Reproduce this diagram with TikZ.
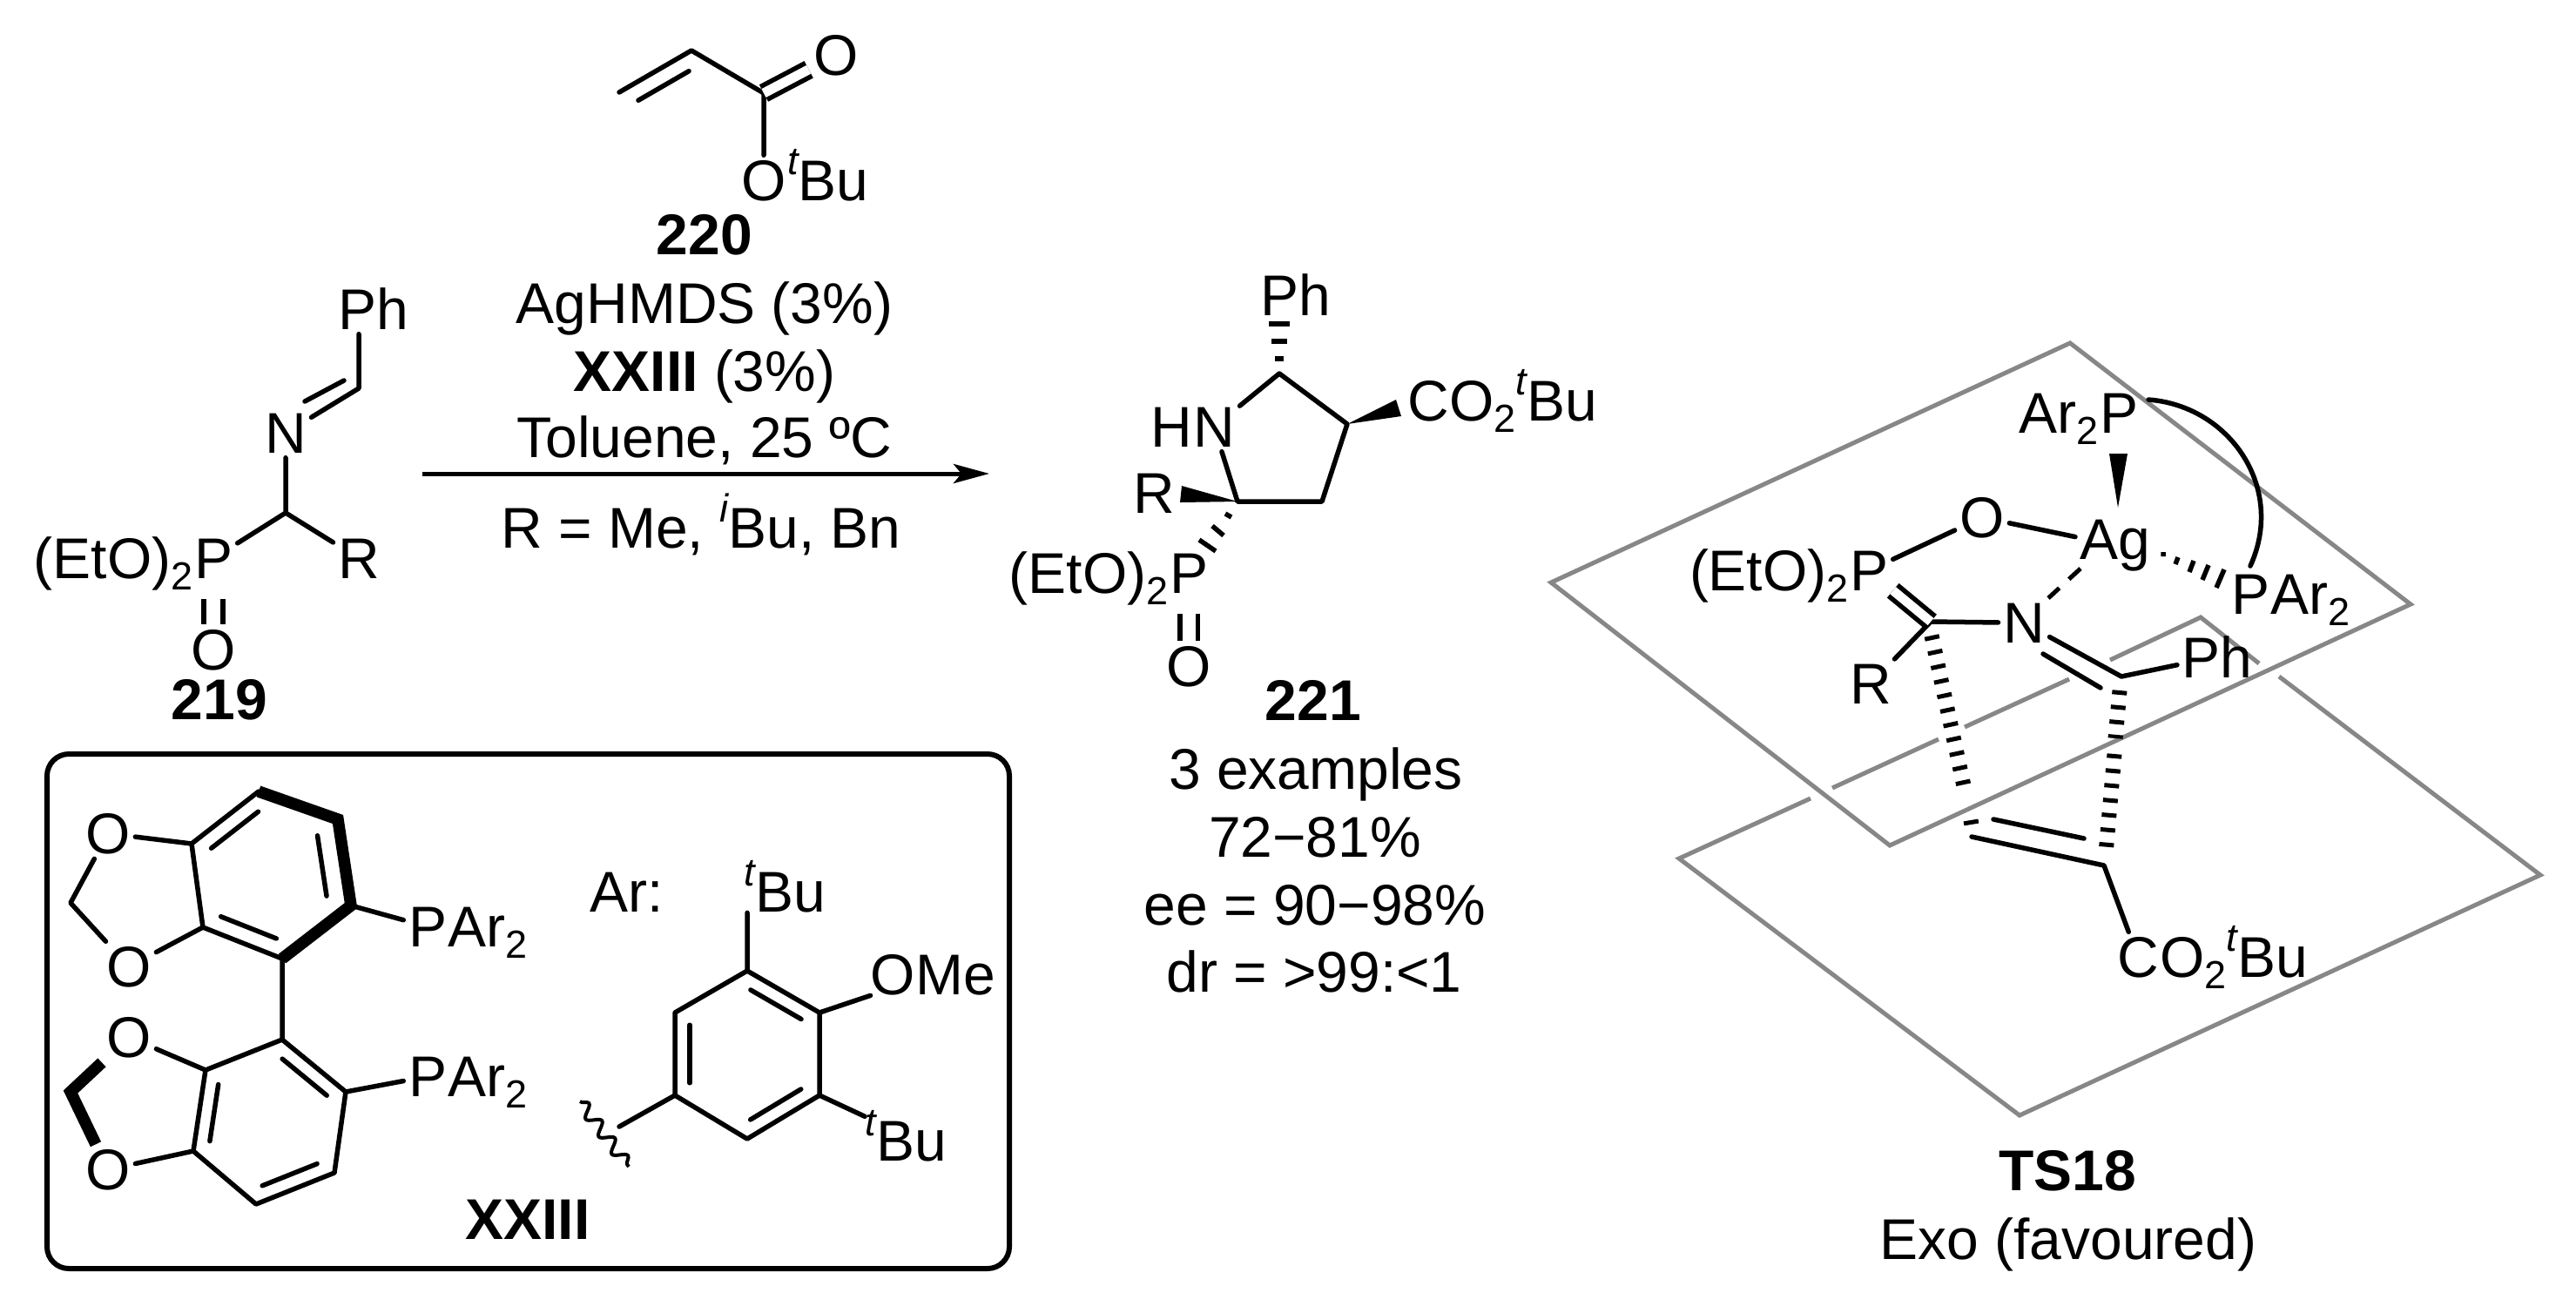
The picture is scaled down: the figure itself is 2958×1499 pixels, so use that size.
\documentclass[tikz,border=0pt]{standalone}
\usepackage{fontspec}
\setmainfont{Liberation Sans}
\usetikzlibrary{arrows.meta,calc,decorations.pathmorphing}
\newcommand{\chemfont}{\fontsize{18.76}{22}\selectfont}
\newcommand{\subtxt}[1]{\raisebox{-.2em}{\fontsize{12.8}{14}\selectfont #1}}
\newcommand{\suptxt}[1]{\raisebox{.44em}{\fontsize{12.8}{14}\selectfont\itshape #1}}
\newcommand{\innerbond}[3]{\draw[bond]($(#1)!.15!(#2)!#3!90:(#2)$)--($(#2)!.15!(#1)!#3!-90:(#1)$);}
\tikzset{
bond/.style={line width=.055cm,line cap=round,line join=round},
boldbond/.style={line width=.135cm},
dblbond/.style={double,double distance=#1,line width=.055cm},
hash/.style={line width=.055cm},
hashbond/.style={line width=.17cm,dash pattern=on .05cm off .12cm},
plane/.style={draw=black!47,line width=.05cm},
lbl/.style={font=\chemfont,inner sep=0pt,anchor=base},
atom/.style={font=\chemfont,inner sep=.05cm,anchor=base},
rlbl/.style={lbl,anchor=base west,xshift=-.05cm},
llbl/.style={lbl,anchor=base east,xshift=.05cm},
cmpd/.style={lbl,font=\chemfont\bfseries}
}
\begin{document}
\begin{tikzpicture}[x=.01cm,y=-.01cm]
\useasboundingbox(0,0)rectangle(2958,1499);
\coordinate(up1)at(2377,394);\coordinate(up2)at(2768,694);\coordinate(up3)at(2170,971);\coordinate(up4)at(1781,669);
\coordinate(lp1)at(2527,709);\coordinate(lp2)at(2917,1005);\coordinate(lp3)at(2319,1281);\coordinate(lp4)at(1928,986);
\coordinate(gap1)at(2079,917);\coordinate(gap2)at(2104,905);\coordinate(gap3)at(2226,849);\coordinate(gap4)at(2256,835);
\coordinate(gap5)at(2376,780);\coordinate(gap6)at(2423,758);\coordinate(gap7)at(2594,762);\coordinate(gap8)at(2617,777);
\draw[plane](up1)--(up2)--(up3)--(up4)--cycle;
\draw[plane](gap8)--(lp2)--(lp3)--(lp4)--(gap1)(gap2)--(gap3)(gap4)--(gap5)(gap6)--(lp1)--(gap7);
\node[atom](O220a)at(960,86){O};
\node[atom](O220b)at(877,230){O};
\node[rlbl](Bu220)at(O220b.base east){\suptxt{t}Bu};
\coordinate(c220a)at(711,106);\coordinate(c220b)at(794,58);\coordinate(c220c)at(877,107);
\draw[bond](c220a)--(c220b)--(c220c)--(O220b);
\innerbond{c220b}{c220a}{.19cm}
\draw[dblbond=.11cm](c220c)--(O220a);
\node[cmpd](n220)at(809,292){220};
\node[lbl](agh)at(809,371){AgHMDS (3\%)};
\node[lbl](lig)at(809,449){\textbf{XXIII} (3\%)};
\node[lbl](tol)at(809,525){Toluene, 25 ºC};
\node[lbl](rme)at(805,629){R = Me, \suptxt{i}Bu, Bn};
\coordinate(arr1)at(485,544);\coordinate(arr2)at(1136,544);
\draw[line width=.05cm,-{Stealth[length=.41cm,width=.22cm,inset=.09cm]}](arr1)--(arr2);
\node[atom](Ph219)at(429,378){Ph};
\node[atom](N219)at(328,520){N};
\node[atom](R219)at(412,664){R};
\node[atom](P219)at(245,664){P};
\node[llbl](Et219)at(P219.base west){(EtO)\subtxt{2}};
\node[atom,inner sep=0pt](O219)at(245,769){O};
\node[cmpd](n219)at(252,826){219};
\coordinate(c219a)at(412,446);\coordinate(c219b)at(328,589);\coordinate(c219c)at(395,437);\coordinate(c219d)at(350,461);
\draw[bond](c219a|-Ph219.south)--(c219a)--(N219)--(c219b)--(P219)(c219b)--(R219)(c219c)--(c219d);
\draw[dblbond=.16cm,shorten <=.18cm,shorten >=.05cm](P219)--(O219);
\coordinate(box1)at(54,866);\coordinate(box2)at(1159,1457);
\draw[line width=.06cm,rounded corners=.25cm](box1)rectangle(box2);
\coordinate(t1)at(220,969);\coordinate(t2)at(297,909);\coordinate(t3)at(388,941);\coordinate(t4)at(403,1040);\coordinate(t5)at(324,1101);\coordinate(t6)at(233,1065);
\coordinate(b1)at(324,1194);\coordinate(b2)at(397,1254);\coordinate(b3)at(384,1347);\coordinate(b4)at(294,1383);\coordinate(b5)at(222,1322);\coordinate(b6)at(236,1229);
\coordinate(tc)at(81,1037);\coordinate(bc)at(81,1254);
\node[atom](Ot1)at(124,980){O};
\node[atom](Ot2)at(148,1133){O};
\node[atom](Ob1)at(148,1214){O};
\node[atom](Ob2)at(124,1366){O};
\node[atom](Pt)at(491,1087){P};
\node[rlbl](Art)at(Pt.base east){Ar\subtxt{2}};
\node[atom](Pb)at(491,1259){P};
\node[rlbl](Arb)at(Pb.base east){Ar\subtxt{2}};
\draw[bond](Ot1)--(t1)--(t2)(t1)--(t6)--(t5)(t6)--(Ot2)--(tc)--(Ot1)(t4)--(Pt)(t5)--(b1);
\draw[boldbond](t2)--(t3)--(t4)--(t5);
\draw[bond](b1)--(b2)--(b3)--(b4)--(b5)--(b6)--(b1)(b6)--(Ob1)(b5)--(Ob2)(b2)--(Pb);
\draw[boldbond](Ob1)--(bc)--(Ob2);
\innerbond{t2}{t1}{.18cm}
\innerbond{t4}{t3}{.26cm}
\innerbond{t6}{t5}{.19cm}
\innerbond{b2}{b1}{.17cm}
\innerbond{b4}{b3}{.17cm}
\innerbond{b6}{b5}{.17cm}
\node[lbl,anchor=base west](ar)at(677,1047){Ar:};
\coordinate(a1)at(858,1115);\coordinate(a2)at(941,1163);\coordinate(a3)at(941,1258);\coordinate(a4)at(858,1308);\coordinate(a5)at(775,1258);\coordinate(a6)at(775,1163);
\coordinate(wave1)at(666,1265);\coordinate(wave2)at(722,1340);\coordinate(wave3)at(711,1294);
\node[lbl,anchor=base west](Bua)at(854,1047){\suptxt{t}Bu};
\node[lbl,anchor=base west](Bub)at(993,1333){\suptxt{t}Bu};
\node[lbl,anchor=base west](OMe)at(999,1142){OMe};
\draw[bond](a1)--(a2)--(a3)--(a4)--(a5)--(a6)--cycle(a1)--(a1|-Bua.south)(a2)--(OMe)(a3)--(Bub)(a5)--(wave3);
\innerbond{a2}{a1}{.17cm}
\innerbond{a4}{a3}{.17cm}
\innerbond{a6}{a5}{.17cm}
\draw[line width=.04cm,decorate,decoration={snake,segment length=.25cm,amplitude=.07cm}](wave1)--(wave2);
\node[cmpd](n23)at(606,1423){XXIII};
\node[atom](Ph221)at(1488,362){Ph};
\coordinate(ca)at(1469,429);\coordinate(cb)at(1547,487);\coordinate(cc)at(1518,576);\coordinate(cd)at(1421,576);
\node[atom](N221)at(1394,513){N};
\node[llbl](H221)at(N221.base west){H};
\draw[bond](N221)--(ca)--(cb)--(cc)--(cd)--(N221);
\coordinate(w1)at(1603,459);\coordinate(w2)at(1609,478);\coordinate(w3)at(1357,558);\coordinate(w4)at(1355,577);
\fill(cb)--(w1)--(w2)--cycle(cd)--(w3)--(w4)--cycle;
\node[lbl,anchor=base west](co221)at(1616,483){CO\subtxt{2}\suptxt{t}Bu};
\node[lbl](R221)at(1325,589){R};
\draw[hash](1457,372)--(1481,372)(1460,392)--(1478,392)(1464,412)--(1474,412);
\draw[hash](1407,590)--(1414,594)(1392,604)--(1405,615)(1377,620)--(1396,633);
\node[atom](P221)at(1365,681){P};
\node[llbl](Et221)at(P221.base west){(EtO)\subtxt{2}};
\node[atom](O221)at(1365,788){O};
\draw[dblbond=.15cm,shorten <=.18cm](P221)--(O221);
\node[cmpd](n221)at(1508,827){221};
\node[lbl](ex)at(1511,906){3 examples};
\node[lbl](yld)at(1510,984){72−81\%};
\node[lbl](ee)at(1510,1062){ee = 90−98\%};
\node[lbl](dr)at(1509,1139){dr = >99:<1};
\node[atom](Pa)at(2433,497){P};
\node[llbl](Ara)at(Pa.base west){Ar\subtxt{2}};
\node[atom](Ag)at(2429,642){Ag};
\node[atom](Ots)at(2276,617){O};
\node[atom](Pts)at(2146,678){P};
\node[llbl](Etts)at(Pts.base west){(EtO)\subtxt{2}};
\node[atom](Pc)at(2584,705){P};
\node[rlbl](Arc)at(Pc.base east){Ar\subtxt{2}};
\node[atom](Nts)at(2324,738){N};
\node[atom](Rts)at(2148,808){R};
\node[atom](Phts)at(2546,778){Ph};
\node[atom](Cts)at(2455,1122){C};
\node[rlbl](cots)at(Cts.base east){O\subtxt{2}\suptxt{t}Bu};
\coordinate(c1)at(2217,714);\coordinate(c2)at(2436,777);\coordinate(c3)at(2264,961);\coordinate(c4)at(2416,994);
\coordinate(c5)at(2289,941);\coordinate(c6)at(2393,963);\coordinate(c7)at(2346,751);\coordinate(c8)at(2412,790);
\coordinate(w5)at(2422,521);\coordinate(w6)at(2443,521);\coordinate(w7)at(2432,583);
\coordinate(arc1)at(2467,459);\coordinate(arc2)at(2584,650);
\fill(w5)--(w6)--(w7)--cycle;
\draw[bond](Pts)--(Ots)--(Ag)(c1)--(Nts)(c1)--(Rts)(Nts)--(c2)--(Phts)(c7)--(c8)(c3)--(c4)--(Cts)(c5)--(c6);
\draw[dblbond=.105cm](Pts)--(c1);
\draw[bond](arc1)..controls(2560,466)and(2625,560)..(arc2);
\draw[hash](2484,634)--(2484,639)(2501,640)--(2498,648)(2519,644)--(2514,657)(2536,649)--(2529,666)(2554,654)--(2545,675);
\coordinate(d1)at(2389,653);\coordinate(d2)at(2352,687);
\draw[line width=.05cm,dash pattern=on .18cm off .15cm](d1)--(d2);
\coordinate(h1)at(2218,730);\coordinate(h2)at(2257,912);\coordinate(h3)at(2263,942);\coordinate(h4)at(2264,948);
\coordinate(h5)at(2434,793);\coordinate(h6)at(2429,848);\coordinate(h7)at(2428,866);\coordinate(h8)at(2418,980);
\draw[hashbond](h1)--(h2)(h3)--(h4)(h5)--(h6)(h7)--(h8);
\node[cmpd](ts)at(2374,1367){TS18};
\node[lbl](exo)at(2375,1446){Exo (favoured)};
\end{tikzpicture}
\end{document}
